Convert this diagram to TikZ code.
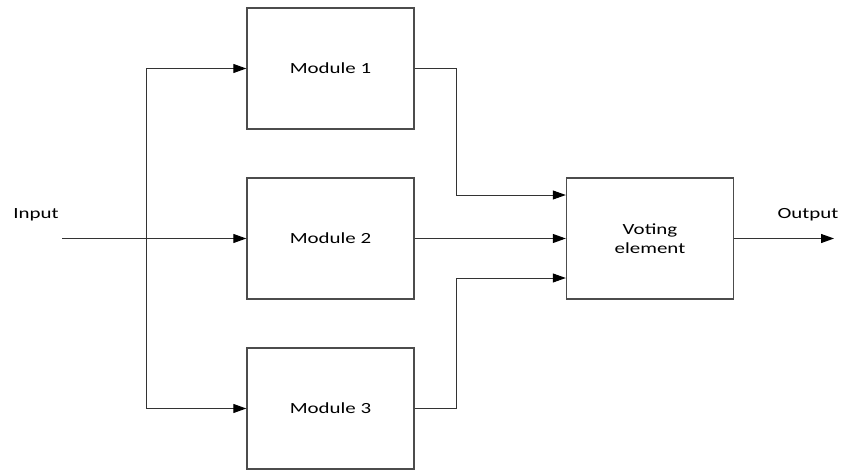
\documentclass[tikz,border=0pt]{standalone}
\usepackage{fontspec}
\setmainfont{Carlito}[FakeStretch=1.35]
\usetikzlibrary{arrows.meta}
\begin{document}
\begin{tikzpicture}[x=1pt,y=-1pt,
  box/.style={draw=black!70,line width=1.4pt,fill=white,minimum width=167pt,minimum height=121pt,inner sep=0pt,font=\fontsize{15.5}{19}\selectfont,align=center},
  lbl/.style={font=\fontsize{15.5}{19}\selectfont,inner sep=0pt},
  conn/.style={draw=black!80,line width=1pt},
  arr/.style={conn,-{Triangle[length=13pt,width=9pt,fill=black,color=black]}}]
\useasboundingbox (0,0) rectangle (844,472);
\node[box] (m1) at (330.5,68.5) {Module 1};
\node[box] (m2) at (330.5,238.5) {Module 2};
\node[box] (m3) at (330.5,408.5) {Module 3};
\node[box] (v) at (650,238.5) {Voting\\element};
\node[lbl] (in) at (36,215) {Input};
\node[lbl] (out) at (808,215) {Output};
\coordinate (s) at (62,238.5);
\coordinate (b) at (146,238.5);
\coordinate (e) at (834,238.5);
\draw[arr] (s) -- (m2.west);
\draw[arr] (b) |- (m1.west);
\draw[arr] (b) |- (m3.west);
\draw[arr] (m1.east) -| (456,195) -- (v.west |- 0,195);
\draw[arr] (m2.east) -- (v.west);
\draw[arr] (m3.east) -| (456,278) -- (v.west |- 0,278);
\draw[arr] (v.east) -- (e);
\end{tikzpicture}
\end{document}
